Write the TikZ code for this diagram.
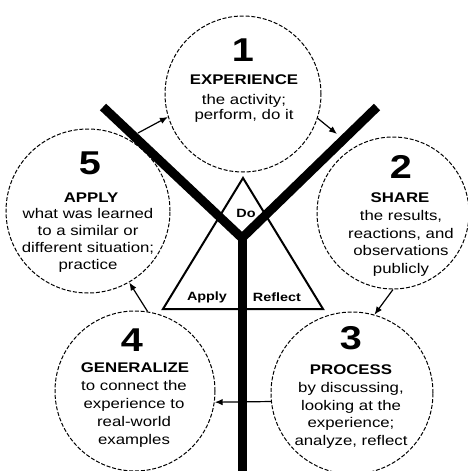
\documentclass[tikz,border=0pt]{standalone}
\usepackage{fontspec}
\setmainfont{Liberation Sans}[FakeStretch=1.2]
\usetikzlibrary{arrows.meta,calc}

\begin{document}
\begin{tikzpicture}[x=1pt,y=-1pt,
  stage/.style={circle, draw, dash pattern=on 4pt off 1.8pt, line width=1pt,
                inner sep=0pt},
  numtxt/.style={font=\bfseries\fontsize{33}{33}\selectfont, inner sep=0pt},
  titletxt/.style={font=\bfseries\fontsize{14}{14}\selectfont, inner sep=0pt},
  desctxt/.style={font=\fontsize{14}{#1}\selectfont, align=center, inner sep=0pt},
  desctxt/.default=17.5,
  tritxt/.style={font=\bfseries\fontsize{12}{12}\selectfont, inner sep=0pt},
  flow/.style={line width=1.2pt, -{Latex[length=8pt,width=6.5pt]}},
  arm/.style={line width=9pt},
]
\useasboundingbox (0,0) rectangle (468,471);

% the five stages of the cycle
\node[stage, minimum size=156pt] (c1) at (243,94)  {};
\node[stage, minimum size=152pt] (c2) at (393,213) {};
\node[stage, minimum size=162pt] (c3) at (352,393) {};
\node[stage, minimum size=160pt] (c4) at (135,391) {};
\node[stage, minimum size=164pt] (c5) at (88,211)  {};

% the Do / Apply / Reflect triangle
\coordinate (tTop) at (243,178);
\coordinate (tLeft) at (163,309);
\coordinate (tRight) at (323,309);
\draw[line width=2pt, line join=miter] (tTop) -- (tLeft) -- (tRight) -- cycle;

% the Y: two arms joining into one stem
\coordinate (armL) at (103,107);
\coordinate (armR) at (377,107);
\coordinate (fork) at (242,238);
\coordinate (stemEnd) at (242,475);
\draw[arm, line join=miter] (armL) -- (fork) -- (armR);
\draw[arm] (fork) -- (stemEnd);

\node[tritxt] (tDo) at (246,213) {Do};
\node[tritxt] (tApply) at (207,297) {Apply};
\node[tritxt] (tReflect) at (277,297) {Reflect};

% stage texts
\node[numtxt] (n1) at (243,50) {1};
\node[titletxt] (h1) at (244,80) {EXPERIENCE};
\node[desctxt=15.5] (d1) at (244,108.5) {the activity;\\perform, do it};

\node[numtxt] (n2) at (401,167) {2};
\node[titletxt] (h2) at (400,198) {SHARE};
\node[desctxt=17.7] (d2) at (401,243.5) {the results,\\reactions, and\\observations\\publicly};

\node[numtxt] (n3) at (351,338.5) {3};
\node[titletxt] (h3) at (351,370) {PROCESS};
\node[desctxt=17.7] (d3) at (351,415.5) {by discussing,\\looking at the\\experience;\\analyze, reflect};

\node[numtxt] (n4) at (132,340) {4};
\node[titletxt] (h4) at (135,367.5) {GENERALIZE};
\node[desctxt=18] (d4) at (134,414) {to connect the\\experience to\\real-world\\examples};

\node[numtxt] (n5) at (90,163.5) {5};
\node[titletxt] (h5) at (91,197.5) {APPLY};
\node[desctxt=17] (d5) at (88,240.5) {what was learned\\to a similar or\\different situation;\\practice};

% arrows around the cycle
\coordinate (p51) at (138,133);
\coordinate (p12) at (337,134);
\draw[flow] (p51) -- (c1.197);
\draw[flow] (c1.-18) -- (p12);
\draw[flow] (c2.-90) -- (c3.74);
\draw[flow] (c3.186) -- (c4.-8);
\draw[flow] (c4.81) -- (c5.-60);
\end{tikzpicture}
\end{document}
